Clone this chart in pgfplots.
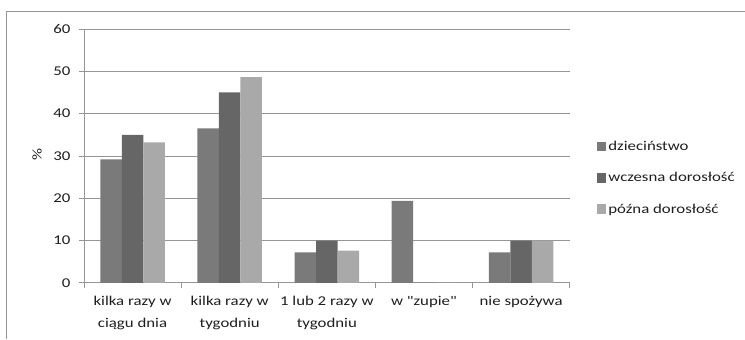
\documentclass[border=0pt]{standalone}
\usepackage{pgfplots}
\pgfplotsset{compat=1.18}
\usepackage{graphicx}
\usepackage{fontspec}
\setmainfont{Carlito}
\definecolor{cDz}{HTML}{7A7A7A}
\definecolor{cWd}{HTML}{666666}
\definecolor{cPd}{HTML}{A9A9A9}
\definecolor{cGrid}{HTML}{959595}
\definecolor{cText}{HTML}{1E1E1E}
% text set slightly wide
\newcommand{\wide}[1]{\scalebox{1.25}[1]{#1}}
\begin{document}
\begin{tikzpicture}[x=1bp,y=1bp]
  % page frame and chart border
  \path (0,0) rectangle (745,339);
  \draw[cGrid,line width=0.8bp] (6,0) -- (6,328) -- (745,328);
  \begin{axis}[
    at={(84bp,56bp)}, anchor=south west,
    scale only axis, width=486bp, height=254bp,
    ybar=0pt, bar width=21.5bp,
    xmin=-0.5, xmax=4.5, ymin=0, ymax=60,
    ytick={0,10,...,60},
    yticklabel={\wide{\pgfmathprintnumber{\tick}}},
    xtick={0,1,2,3,4},
    xticklabels={{\wide{kilka razy w}\\\wide{ciągu dnia}},{\wide{kilka razy w}\\\wide{tygodniu}},{\wide{1 lub 2 razy w}\\\wide{tygodniu}},{\wide{w \textquotedbl zupie\textquotedbl}},{\wide{nie spożywa}}},
    minor xtick={-0.5,0.5,1.5,2.5,3.5,4.5},
    major x tick style={draw=none},
    minor tick length=5bp, major tick length=5bp,
    tick align=outside,
    tick style={cGrid,line width=0.8bp},
    axis x line*=bottom, axis y line*=left,
    axis line style={cGrid,line width=0.8bp,-},
    ymajorgrids, grid style={cGrid,line width=0.8bp},
    /pgf/number format/assume math mode=true,
    tick label style={font=\fontsize{13.5}{22}\selectfont, text=cText},
    yticklabel style={xshift=-5bp},
    xticklabel style={align=center, yshift=-5bp},
    legend style={draw=none, fill=none, at={(axis description cs:1.0556,0.413)}, anchor=west,
      font=\fontsize{13.5}{15}\selectfont, text=cText, inner xsep=0pt, row sep=16.5bp,
      /tikz/every even column/.append style={column sep=2bp}},
    legend cell align=left,
    legend image code/.code={\fill[#1] (0,-4.5bp) rectangle (9.5bp,5bp);},
  ]
    \addplot[fill=cDz, draw=none] coordinates {(0,29.2) (1,36.5) (2,7.2) (3,19.4) (4,7.2)};
    \addplot[fill=cWd, draw=none] coordinates {(0,35) (1,45) (2,10) (3,0) (4,10)};
    \addplot[fill=cPd, draw=none] coordinates {(0,33.2) (1,48.6) (2,7.6) (3,0) (4,10)};
    \legend{\wide{dzieciństwo}, \wide{wczesna dorosłość}, \wide{późna dorosłość}}
  \end{axis}
  \node[rotate=90, font=\fontsize{13.5}{15}\selectfont, text=cText] at (37,184) {\wide{\%}};
\end{tikzpicture}
\end{document}
